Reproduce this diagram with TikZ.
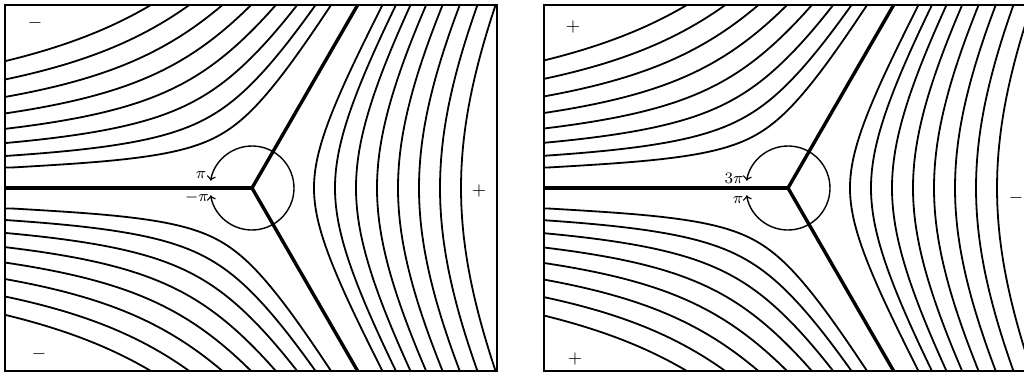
\documentclass[tikz,border=0pt]{standalone}
\begin{document}
\begin{tikzpicture}[x=0.5pt, y=0.5pt,
    frame/.style={line width=0.6pt},
    level/.style={line width=0.9pt},
    cut/.style={line width=1.7pt},
    turn/.style={line width=0.7pt, <->, >=to},
    sign/.style={font=\small},
    arg/.style={font=\footnotesize, inner sep=0pt}]
    \clip (0,0) rectangle (1024,376);

    % both sheets: level curves in the three sectors, cuts and the loop
    \foreach \ox/\bx in {5/252, 544/788} {
        \coordinate (B) at (\bx,188);
        \begin{scope}
            \clip (\ox,5) rectangle (\ox+492,371);
            \begin{scope}[shift={(B)}]
                \foreach \bth in {0,120,240} {
                    \foreach \rr in {62,83,...,209} {
                        \draw[level] plot[domain=-59:59, samples=150, variable=\t]
                            ({\bth+\t}:{\rr*exp(-2/3*ln(cos(1.5*\t)))});
                    }
                }
            \end{scope}
            \draw[cut] (\ox,188) -- (B);
            \draw[cut] (B) -- ++(60:240);
            \draw[cut] (B) -- ++(-60:240);
            \draw[turn] (B) ++(-170:42) arc[start angle=-170, end angle=170, radius=42];
        \end{scope}
        \draw[frame] (\ox,5) rectangle (\ox+492,371);
    }

    \node[arg] (piA) at (201,201) {$\pi$};
    \node[arg] (mpiA) at (197,179) {$-\pi$};
    \node[arg] (tpiB) at (734,198) {$3\pi$};
    \node[arg] (piB) at (738,176) {$\pi$};

    \node[sign] (sA1) at (35,353) {$-$};
    \node[sign] (sA2) at (479,185) {$+$};
    \node[sign] (sA3) at (39,22) {$-$};
    \node[sign] (sB1) at (573,349) {$+$};
    \node[sign] (sB2) at (575,17) {$+$};
    \node[sign] (sB3) at (1016,178) {$-$};
\end{tikzpicture}
\end{document}
